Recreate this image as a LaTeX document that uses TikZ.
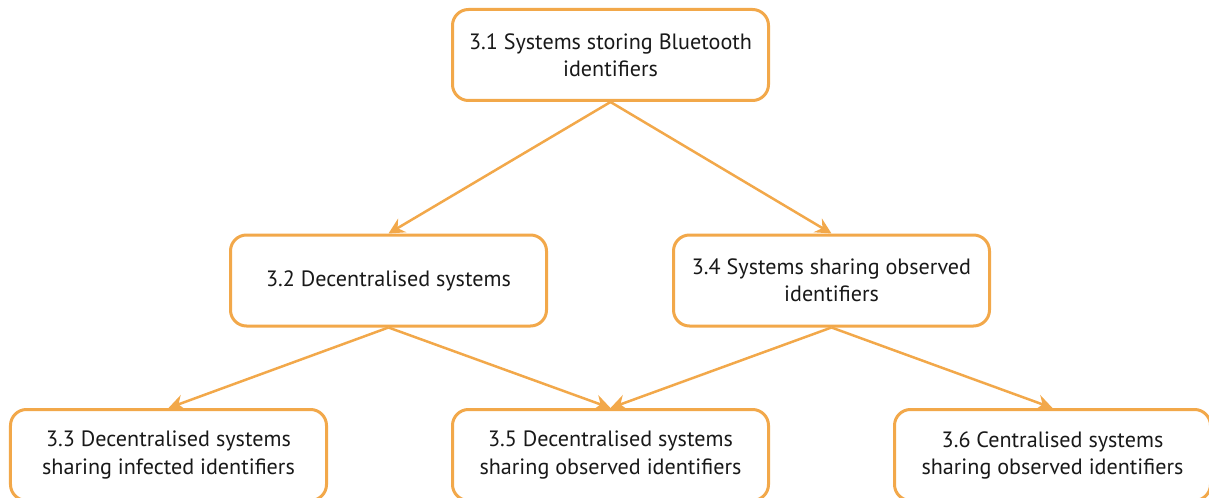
\documentclass[tikz,border=0pt]{standalone}
\usepackage{fontspec}
\setmainfont{PT Sans}
\usetikzlibrary{arrows.meta}
\definecolor{boxorange}{RGB}{242,168,74}

\begin{document}
\begin{tikzpicture}[
  sysbox/.style={draw=boxorange,line width=0.06cm,rounded corners=0.32cm,fill=white,
    minimum width=6.32cm,minimum height=1.82cm,align=center,font=\fontsize{12.6}{15.4}\selectfont,text=black!90},
  link/.style={draw=boxorange,line width=0.05cm,-{Stealth[length=9pt,width=9pt,inset=3pt]}}]
\useasboundingbox (0,0) rectangle (24.18,-9.96);

\node[sysbox] (s31) at (12.21,-1.10) {3.1 Systems storing Bluetooth\\identifiers};

\node[sysbox] (s32) at (7.77,-5.61) {3.2 Decentralised systems};
\node[sysbox] (s34) at (16.63,-5.61) {3.4 Systems sharing observed\\identifiers};

\node[sysbox] (s33) at (3.37,-9.10) {3.3 Decentralised systems\\sharing infected identifiers};
\node[sysbox] (s35) at (12.21,-9.10) {3.5 Decentralised systems\\sharing observed identifiers};
\node[sysbox] (s36) at (21.05,-9.10) {3.6 Centralised systems\\sharing observed identifiers};

\draw[link] (s31.south) -- (s32.north);
\draw[link] (s31.south) -- (s34.north);
\draw[link] (s32.south) -- (s33.north);
\draw[link] (s32.south) -- (s35.north);
\draw[link] (s34.south) -- (s35.north);
\draw[link] (s34.south) -- (s36.north);
\end{tikzpicture}
\end{document}
